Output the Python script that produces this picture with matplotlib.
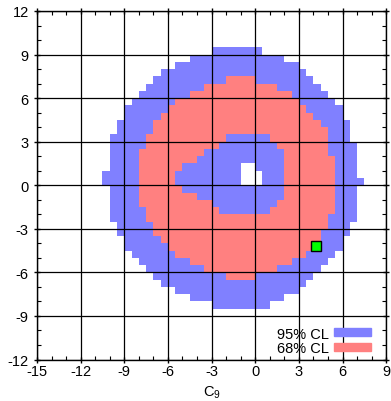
import numpy as np
import matplotlib.pyplot as plt
from matplotlib.colors import ListedColormap
from matplotlib.patches import Patch
from matplotlib.ticker import MultipleLocator

plt.rcParams['font.family'] = ['Liberation Sans', 'DejaVu Sans']
plt.rcParams['mathtext.fontset'] = 'custom'
plt.rcParams['mathtext.rm'] = 'Liberation Sans'
plt.rcParams['mathtext.it'] = 'Liberation Sans'
plt.rcParams['axes.unicode_minus'] = False

# scan rows: lower edge of each 0.5-wide bin in C10, top row first
row_y = [9.0, 8.5, 8.0, 7.5, 7.0, 6.5, 6.0, 5.5, 5.0, 4.5, 4.0, 3.5,
         3.0, 2.5, 2.0, 1.5, 1.0, 0.5, 0.0, -0.5, -1.0, -1.5, -2.0, -2.5,
         -3.0, -3.5, -4.0, -4.5, -5.0, -5.5, -6.0, -6.5, -7.0, -7.5, -8.0, -8.5]

# 95% CL extent in C9 per row
cl95_lo = [-3, -4.5, -5.5, -6.5, -7, -7.5, -8, -8.5, -9, -9, -9.5, -9.5,
           -10, -10, -10, -10, -10, -10.5, -10.5, -10, -10, -10, -10, -10,
           -9.5, -9.5, -9, -9, -8.5, -8, -7.5, -7, -6.5, -5.5, -4.5, -3]
cl95_hi = [0.5, 2, 3, 3.5, 4, 4.5, 5, 5.5, 6, 6, 6.5, 6.5,
           6.5, 7, 7, 7, 7, 7, 7.5, 7, 7, 7, 7, 7,
           6.5, 6.5, 6, 6, 5.5, 5, 4.5, 4, 3.5, 3, 2, 1]

# 68% CL extent (rows 7.0 .. -6.5)
cl68_y = row_y[4:32]
cl68_lo = [-2, -3.5, -4.5, -5.5, -6, -6.5, -7, -7, -7.5, -7.5,
           -8, -8, -8, -8, -8, -8, -8, -8,
           -7.5, -7.5, -7, -7, -6.5, -6, -5.5, -4.5, -3.5, -2]
cl68_hi = [0, 1.5, 2.5, 3, 3.5, 4, 4.5, 5, 5, 5,
           5, 5.5, 5.5, 5.5, 5.5, 5.5, 5.5, 5.5,
           5.5, 5, 5, 4.5, 4.5, 4.5, 3.5, 2.5, 1.5, 0]

# island inside the 68% ring that is only at 95%
inner_y = row_y[12:23]
inner_lo = [-2, -2.5, -3.5, -4, -5, -5.5, -5.5, -5, -4, -3, -2.5]
inner_hi = [1, 1.5, 2, 2, 2, 2, 2, 2, 2, 1.5, 1]

# excluded bins in the middle
hole_y = [1.0, 0.5, 0.0]
hole_lo = [-1, -1, -1]
hole_hi = [0, 0.5, 0.5]

# best fit point
best_c9 = 4.2
best_c10 = -4.2

blue = '#8080ff'
red = '#ff8080'

step = 0.5
x_edges = np.arange(-10.5, 7.5 + step, step)
y_edges = np.arange(-8.5, 9.5 + step, step)
xc = 0.5 * (x_edges[1:] + x_edges[:-1])
level = np.zeros((len(y_edges) - 1, len(x_edges) - 1))


def fill(ys, lo, hi, val):
    for y, a, b in zip(ys, lo, hi):
        j = int(round((y - y_edges[0]) / step))
        level[j, (xc > a) & (xc < b)] = val


fill(row_y, cl95_lo, cl95_hi, 1)
fill(cl68_y, cl68_lo, cl68_hi, 2)
fill(inner_y, inner_lo, inner_hi, 1)
fill(hole_y, hole_lo, hole_hi, 0)

fig = plt.figure(figsize=(3.91, 4.02), dpi=100)
ax = fig.add_axes([0.0946, 0.1032, 0.893, 0.867])

ax.pcolormesh(x_edges, y_edges, np.ma.masked_equal(level, 0),
              cmap=ListedColormap([blue, red]), vmin=1, vmax=2,
              edgecolors='none', antialiased=False)
ax.plot(best_c9, best_c10, 's', color='#00ff00', mec='black', ms=6.5, mew=1, zorder=4)

ax.set_xlim(-15, 9)
ax.set_ylim(-12, 12)
ax.set_xticks(range(-15, 10, 3))
ax.set_yticks(range(-12, 13, 3))
ax.xaxis.set_minor_locator(MultipleLocator(1))
ax.yaxis.set_minor_locator(MultipleLocator(1))
ax.tick_params(which='major', direction='inout', length=5, width=1,
               top=True, right=True, labelsize=10.5, colors='black')
ax.tick_params(which='minor', direction='in', length=3, width=0.8,
               top=True, right=True)
ax.tick_params(axis='x', pad=1)
ax.tick_params(axis='y', pad=3.5)
ax.grid(True, which='major', color='black', lw=0.9)
ax.set_axisbelow(False)
for s in ax.spines.values():
    s.set_linewidth(1)

ax.set_xlabel(r'C$_9$', fontsize=10.5)
ax.xaxis.set_label_coords(0.5, -0.07)

handles = [Patch(color=blue, label='95% CL'), Patch(color=red, label='68% CL')]
ax.legend(handles=handles, loc='lower right', frameon=False, markerfirst=False,
          fontsize=10.5, handlelength=2.5, handleheight=0.5, handletextpad=0.4,
          labelspacing=0.05, borderaxespad=0.3, bbox_to_anchor=(0.985, -0.017))

fig.savefig('out.png', dpi=100)
